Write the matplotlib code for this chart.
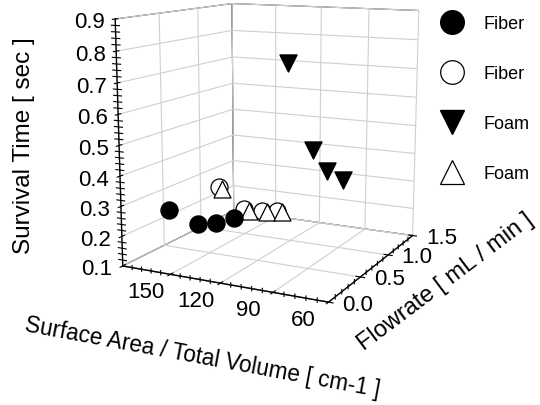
import numpy as np
import matplotlib
matplotlib.use('Agg')
import matplotlib.pyplot as plt
from matplotlib.lines import Line2D
from mpl_toolkits.mplot3d import proj3d

plt.rcParams['font.family'] = ['Liberation Sans', 'DejaVu Sans']
plt.rcParams['grid.color'] = '#cfcfcf'
plt.rcParams['grid.linewidth'] = 0.8

# ---- data ----
fiber_filled_sa = [150, 133, 122, 112]
fiber_filled_flow = [0.0, 0.0, 0.0, 0.0]
fiber_filled_time = [0.31, 0.28, 0.29, 0.315]

fiber_open_sa = [144, 128, 117, 108]
fiber_open_flow = [0.5, 0.5, 0.5, 0.5]
fiber_open_time = [0.333, 0.27, 0.271, 0.278]

foam_open_sa = [142, 125, 114, 105]
foam_open_flow = [0.5, 0.5, 0.5, 0.5]
foam_open_time = [0.327, 0.265, 0.27, 0.277]

foam_filled_sa = [142, 125, 115, 105]
foam_filled_flow = [1.5, 1.5, 1.5, 1.5]
foam_filled_time = [0.69, 0.374, 0.301, 0.273]

sa_ticks = [150, 120, 90, 60]
flow_ticks = [0.0, 0.5, 1.0, 1.5]
time_ticks = [0.1, 0.2, 0.3, 0.4, 0.5, 0.6, 0.7, 0.8, 0.9]
legend_labels = ['Fiber', 'Fiber', 'Foam', 'Foam']

SA_LIM = (180, 60)
FLOW_LIM = (0, 1.5)
TIME_LIM = (0.1, 0.9)

W, H = 540, 406
fig = plt.figure(figsize=(5.4, 4.06), dpi=100)
ax = fig.add_axes([0.1445, 0.181, 0.7086, 0.9425], projection='3d')
ax.set_xlim(*SA_LIM)
ax.set_ylim(*FLOW_LIM)
ax.set_zlim(*TIME_LIM)
ax.view_init(elev=11.41, azim=-63.26)
ax.set_box_aspect((1, 1.019, 1.097))
ax.set_proj_type('persp', focal_length=0.494)

ms = 150
ax.scatter(fiber_filled_sa, fiber_filled_flow, fiber_filled_time, marker='o', s=ms,
           c='black', edgecolors='black', depthshade=False, zorder=5)
ax.scatter(fiber_open_sa, fiber_open_flow, fiber_open_time, marker='o', s=ms,
           facecolors='white', edgecolors='black', linewidths=0.9, depthshade=False)
ax.scatter(foam_open_sa, foam_open_flow, foam_open_time, marker='^', s=ms,
           facecolors='white', edgecolors='black', linewidths=0.9, depthshade=False)
ax.scatter(foam_filled_sa, foam_filled_flow, foam_filled_time, marker='v', s=ms,
           c='black', edgecolors='black', depthshade=False)

ax.set_xticks(sa_ticks)
ax.set_yticks(flow_ticks)
ax.set_zticks(time_ticks)
ax.set_xticklabels([])
ax.set_yticklabels([])
ax.set_zticklabels([])

for axis in (ax.xaxis, ax.yaxis, ax.zaxis):
    axis.set_pane_color((1, 1, 1, 1))
    axis.pane.set_edgecolor('#333333')
    axis.pane.set_linewidth(0.8)
    axis.line.set_color('black')
    axis.line.set_linewidth(1.0)
    axis._axinfo['tick']['inward_factor'] = 0.25
    axis._axinfo['tick']['outward_factor'] = 0.25
    axis._axinfo['tick']['color'] = 'black'

ax.zaxis.set_ticks_position('lower')
ax.set_xlabel('')
ax.set_ylabel('')
ax.set_zlabel('')

# minor tick marks (4 per major interval) along the three drawn axis edges
tick_kw = dict(color='black', lw=0.8)
for v in np.arange(60, 180, 6.0):
    if v % 30:
        ax.plot([v, v], [0, 0], [0.1 - 0.007, 0.1 + 0.007], **tick_kw)
for v in np.arange(0.1, 1.5, 0.1):
    if round(v * 10) % 5:
        ax.plot([60, 60], [v, v], [0.1 - 0.007, 0.1 + 0.007], **tick_kw)
for v in np.arange(0.12, 0.9, 0.02):
    if round(v * 100) % 10:
        ax.plot([182.5, 177.5], [0, 0], [v, v], **tick_kw)

# tick labels, placed next to the projected tick positions
M = ax.get_proj()


def proj2d(x, y, z):
    xs, ys, _ = proj3d.proj_transform(np.array([x], float), np.array([y], float),
                                      np.array([z], float), M)
    return float(xs[0]), float(ys[0])


lab_kw = dict(xycoords=ax.transData, textcoords='offset pixels', ha='center',
              va='center', fontsize=16, annotation_clip=False)
for v in sa_ticks:
    ax.annotate(f'{v:d}', xy=proj2d(v, 0, 0.1), xytext=(-25, -17.5), **lab_kw)
for v in flow_ticks:
    ax.annotate(f'{v:.1f}', xy=proj2d(SA_LIM[1], v, 0.1), xytext=(29, -2), **lab_kw)
for v in time_ticks:
    ax.annotate(f'{v:.1f}', xy=proj2d(SA_LIM[0], 0, v), xytext=(-26, -3), **lab_kw)

fig.text(24/W, 1 - 146/H, 'Survival Time [ sec ]', rotation=90, fontsize=17.5,
         ha='center', va='center')
fig.text(202/W, 1 - 358/H, 'Surface Area / Total Volume [ cm-1 ]', rotation=-10.5,
         fontsize=16.3, ha='center', va='center', rotation_mode='anchor')
fig.text(446/W, 1 - 282/H, 'Flowrate [ mL / min ]', rotation=37, fontsize=17,
         ha='center', va='center', rotation_mode='anchor')

handles = [
    Line2D([], [], ls='none', marker='o', ms=17, mfc='black', mec='black'),
    Line2D([], [], ls='none', marker='o', ms=17, mfc='white', mec='black', mew=0.9),
    Line2D([], [], ls='none', marker='v', ms=17, mfc='black', mec='black'),
    Line2D([], [], ls='none', marker='^', ms=17, mfc='white', mec='black', mew=0.9),
]
fig.legend(handles, legend_labels, loc='upper left',
           bbox_to_anchor=(438.5 / W, 1 - 16 / H), frameon=False, fontsize=13,
           handlelength=1.5, handletextpad=1.0, borderpad=0, borderaxespad=0,
           labelspacing=1.83)

fig.savefig('out.png', dpi=100)
